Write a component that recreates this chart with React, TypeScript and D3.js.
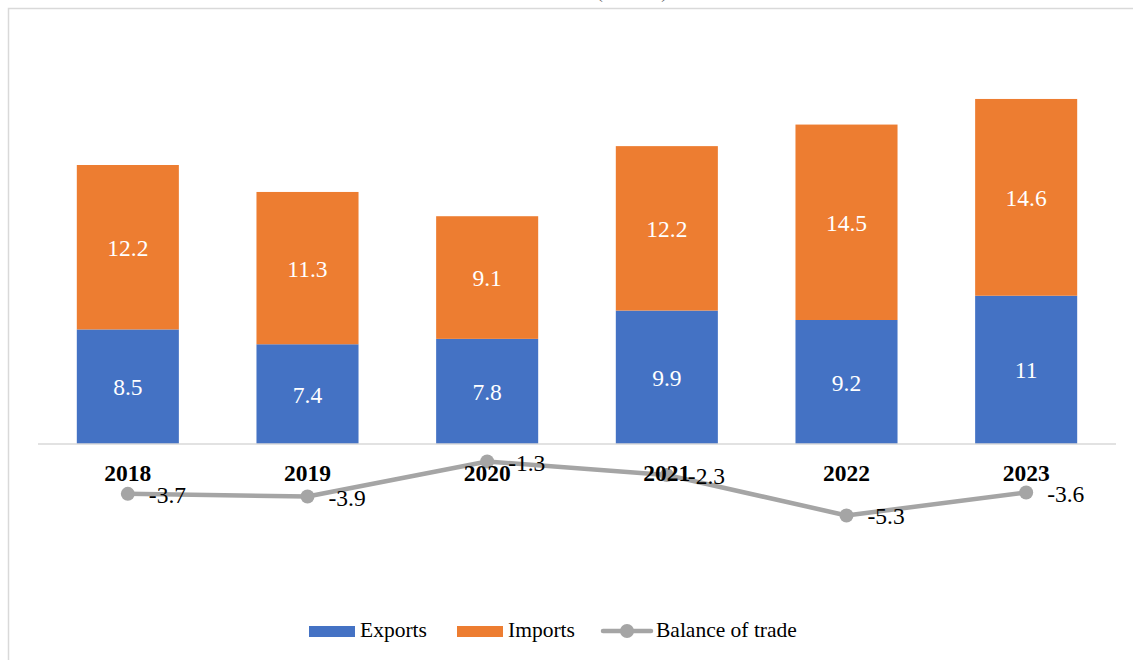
import React from 'react';
import * as d3 from 'd3';

// chart data
const years = ["2018", "2019", "2020", "2021", "2022", "2023"];
const exportsVal = [8.5, 7.4, 7.8, 9.9, 9.2, 11];
const importsVal = [12.2, 11.3, 9.1, 12.2, 14.5, 14.6];
const balanceVal = [-3.7, -3.9, -1.3, -2.3, -5.3, -3.6];

const W = 1133;
const H = 660;

const BLUE = "#4472C4";
const ORANGE = "#ED7D31";
const GREY = "#A5A5A5";
const FONT = "Liberation Serif";

const x = d3.scaleBand<string>()
  .domain(years)
  .range([38, 1116])
  .paddingInner(0.432)
  .paddingOuter(0.216);

const y = d3.scaleLinear()
  .domain([0, 20.7])
  .range([444, 165]);

const stackData = years.map((yr, i) => ({ year: yr, exp: exportsVal[i], imp: importsVal[i] }));
const stack = d3.stack<any>().keys(["exp", "imp"])(stackData);
const colors = [BLUE, ORANGE];
const segValues = [exportsVal, importsVal];

const cx = (i: number) => x(years[i])! + x.bandwidth() / 2;
const balanceLine = d3.line<number>()
  .x((_, i) => cx(i))
  .y(d => y(d));

const App: React.FC = () => {
  const txt = { fontFamily: FONT };
  return (
    <div style={{ position: "absolute", left: 0, top: 0, width: W, height: H, overflow: "hidden" }}>
      <svg width={W} height={H} style={{ display: "block", overflow: "visible", fontFamily: FONT }}>
        {/* chart area border, cropped on the right and bottom */}
        <rect x={8.5} y={8.5} width={W + 20} height={H + 20} fill="white" stroke="#D9D9D9" strokeWidth={1.5} />

        {/* title, mostly cut off above the picture */}
        <text x={632} y={-2} textAnchor="middle" fontSize={18} fill="#595959" style={txt}>(USD bn)</text>

        {stack.map((layer, li) =>
          layer.map((d, i) => {
            const yr = years[i];
            return (
              <g key={`${li}-${i}`}>
                <rect x={x(yr)!} y={y(d[1])} width={x.bandwidth()} height={y(d[0]) - y(d[1])} fill={colors[li]} />
                <text x={x(yr)! + x.bandwidth() / 2} y={(y(d[0]) + y(d[1])) / 2 + 8.5}
                  textAnchor="middle" fontSize={23.5} fill="white" style={txt}>
                  {String(segValues[li][i])}
                </text>
              </g>
            );
          })
        )}

        {/* category axis line */}
        <line x1={38} x2={1116} y1={y(0)} y2={y(0)} stroke="#D9D9D9" strokeWidth={1.5} />

        {/* balance of trade */}
        <path d={balanceLine(balanceVal)!} fill="none" stroke={GREY} strokeWidth={4.5} strokeLinejoin="round" />
        {balanceVal.map((v, i) => (
          <circle key={`c${i}`} cx={cx(i)} cy={y(v)} r={7} fill={GREY} />
        ))}
        {balanceVal.map((v, i) => (
          <text key={`t${i}`} x={cx(i) + 21} y={y(v) + 9} fontSize={23.5} fill="#000" style={txt}>{String(v)}</text>
        ))}

        {/* year labels */}
        {years.map(yr => (
          <text key={yr} x={x(yr)! + x.bandwidth() / 2} y={481} textAnchor="middle"
            fontSize={23.5} fontWeight="bold" fill="#000" style={txt}>{yr}</text>
        ))}

        {/* legend */}
        <g fontSize={21.5}>
          <rect x={309} y={626} width={46} height={11} fill={BLUE} />
          <text x={360} y={637} style={txt}>Exports</text>
          <rect x={457} y={626} width={46} height={11} fill={ORANGE} />
          <text x={508} y={637} style={txt}>Imports</text>
          <line x1={603} x2={651} y1={631} y2={631} stroke={GREY} strokeWidth={4.5} strokeLinecap="round" />
          <circle cx={627} cy={631} r={7} fill={GREY} />
          <text x={656} y={637} style={txt}>Balance of trade</text>
        </g>
      </svg>
    </div>
  );
};

export default App;
